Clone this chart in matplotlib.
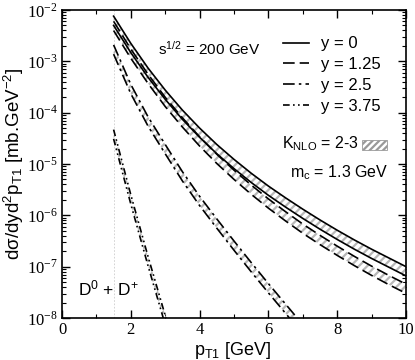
import numpy as np
import matplotlib
matplotlib.use("Agg")
import matplotlib.pyplot as plt
from matplotlib.lines import Line2D
from matplotlib.patches import Rectangle
from matplotlib.ticker import MultipleLocator, LogLocator, NullFormatter

# ---- data (log10 of cross section, mb/GeV^2) ----
pt = [1.5, 2.0, 2.5, 3.0, 3.5, 4.0, 4.5, 5.0, 5.5, 6.0, 6.5, 7.0, 7.5, 8.0, 8.5, 9.0, 9.5, 10.0]

y0_k3 = [-2.12, -2.65, -3.13, -3.56, -3.95, -4.30, -4.62, -4.91, -5.18, -5.43, -5.66, -5.88, -6.09, -6.29, -6.48, -6.66, -6.83, -7.00]
y0_k2 = [-2.30, -2.83, -3.31, -3.74, -4.13, -4.48, -4.80, -5.09, -5.36, -5.61, -5.84, -6.06, -6.27, -6.47, -6.66, -6.84, -7.01, -7.18]

y125_k3 = [-2.22, -2.76, -3.25, -3.70, -4.10, -4.47, -4.81, -5.12, -5.41, -5.68, -5.93, -6.17, -6.39, -6.60, -6.80, -6.99, -7.17, -7.34]
y125_k2 = [-2.40, -2.94, -3.43, -3.88, -4.28, -4.65, -4.99, -5.30, -5.59, -5.86, -6.11, -6.35, -6.57, -6.78, -6.98, -7.17, -7.35, -7.52]

pt25 = [1.5, 2.0, 2.5, 3.0, 3.5, 4.0, 4.5, 5.0, 5.5, 6.0, 6.5, 7.0, 7.5]
y25_k3 = [-2.68, -3.45, -4.08, -4.62, -5.15, -5.63, -6.07, -6.50, -6.92, -7.33, -7.73, -8.13, -8.53]
y25_k2 = [-2.86, -3.63, -4.26, -4.80, -5.33, -5.81, -6.25, -6.68, -7.10, -7.51, -7.91, -8.31, -8.71]

pt375 = [1.5, 2.0, 2.5, 3.0, 3.5]
y375_k3 = [-4.33, -5.60, -6.80, -7.95, -9.10]
y375_k2 = [-4.51, -5.78, -6.98, -8.13, -9.28]

legend_labels = ["y = 0", "y = 1.25", "y = 2.5", "y = 3.75"]
xticks = [0, 2, 4, 6, 8, 10]
yexps = [-8, -7, -6, -5, -4, -3, -2]

plt.rcParams['font.family'] = ['Liberation Sans', 'DejaVu Sans']
plt.rcParams['mathtext.fontset'] = 'custom'
plt.rcParams['mathtext.rm'] = 'Liberation Sans'
plt.rcParams['mathtext.it'] = 'Liberation Sans'
plt.rcParams['hatch.color'] = '#b8b8b8'
plt.rcParams['hatch.linewidth'] = 1.6

fig = plt.figure(figsize=(4.15, 3.6), dpi=100)
ax = fig.add_axes([62/415, 1-318/360, 344/415, 308/360])

styles = ['-', (0, (7, 3)), (0, (7, 2.5, 1.5, 2.5)), (0, (4, 2, 1, 2, 1, 2))]
bands = [(pt, y0_k3, y0_k2), (pt, y125_k3, y125_k2), (pt25, y25_k3, y25_k2), (pt375, y375_k3, y375_k2)]

ax.axvline(1.5, color='#cccccc', lw=0.6, ls=(0, (2, 2)), zorder=1)

for (x, hi, lo), ls in zip(bands, styles):
    hi_v = 10.0 ** np.array(hi)
    lo_v = 10.0 ** np.array(lo)
    ax.fill_between(x, lo_v, hi_v, facecolor='white', edgecolor='#b8b8b8', hatch='////', lw=0, zorder=2)
    ax.plot(x, hi_v, color='black', lw=1.2, ls=ls, zorder=3)
    ax.plot(x, lo_v, color='black', lw=1.2, ls=ls, zorder=3)

ax.set_yscale('log')
ax.set_xlim(0, 10)
ax.xaxis.set_major_locator(MultipleLocator(2))
ax.xaxis.set_minor_locator(MultipleLocator(1))
ax.yaxis.set_minor_locator(LogLocator(base=10, subs=np.arange(2, 10), numticks=20))
ax.yaxis.set_minor_formatter(NullFormatter())
ax.tick_params(which='both', direction='in', top=True, right=True)
ax.tick_params(which='major', length=6, width=1, pad=3)
ax.tick_params(which='minor', length=3, width=0.8)
ax.set_xticks(xticks)
ax.set_xticklabels([str(v) for v in xticks], fontfamily='Liberation Serif', fontsize=12)
ax.set_yticks([10.0 ** e for e in yexps])
ax.set_yticklabels([r'10$^{\mathregular{%d}}$' % e for e in yexps], fontfamily='Liberation Serif', fontsize=12)
for lab in ax.get_yticklabels():
    lab.set_math_fontfamily('stix')
ax.set_ylim(1e-8, 1e-2)
for s in ax.spines.values():
    s.set_linewidth(1.2)

ax.set_xlabel(r'p$_{\mathregular{T1}}$ [GeV]', fontsize=13)
ax.xaxis.set_label_coords(0.497, -0.072)
ax.set_ylabel(r'd$\sigma$/dyd$^{\mathregular{2}}$p$_{\mathregular{T1}}$ [mb.GeV$^{\mathregular{-2}}$]', fontsize=13.5)
ax.yaxis.set_label_coords(-0.105, 0.50)

handles = [Line2D([], [], color='black', lw=1.2, ls=s) for s in styles]
ax.legend(handles, legend_labels, loc='upper left', bbox_to_anchor=(0.599, 0.963), frameon=False,
          fontsize=12, handlelength=1.55, labelspacing=0.35, handletextpad=0.7)

ax.text(0.279, 0.854, r's$^{\mathregular{1/2}}$ = 200 GeV', transform=ax.transAxes, fontsize=11)
ax.text(0.640, 0.552, r'K$_{\mathregular{NLO}}$ = 2-3', transform=ax.transAxes, fontsize=11.5)
ax.add_patch(Rectangle((0.872, 0.545), 0.073, 0.032, transform=ax.transAxes, facecolor='white',
                       edgecolor='#999999', hatch='/////', lw=0.6))
ax.text(0.663, 0.458, r'm$_{\mathregular{c}}$ = 1.3 GeV', transform=ax.transAxes, fontsize=11.5)
ax.text(0.047, 0.075, r'D$^{\mathregular{0}}$ + D$^{\mathregular{+}}$', transform=ax.transAxes, fontsize=12.5)

fig.savefig('out.png', dpi=100)
